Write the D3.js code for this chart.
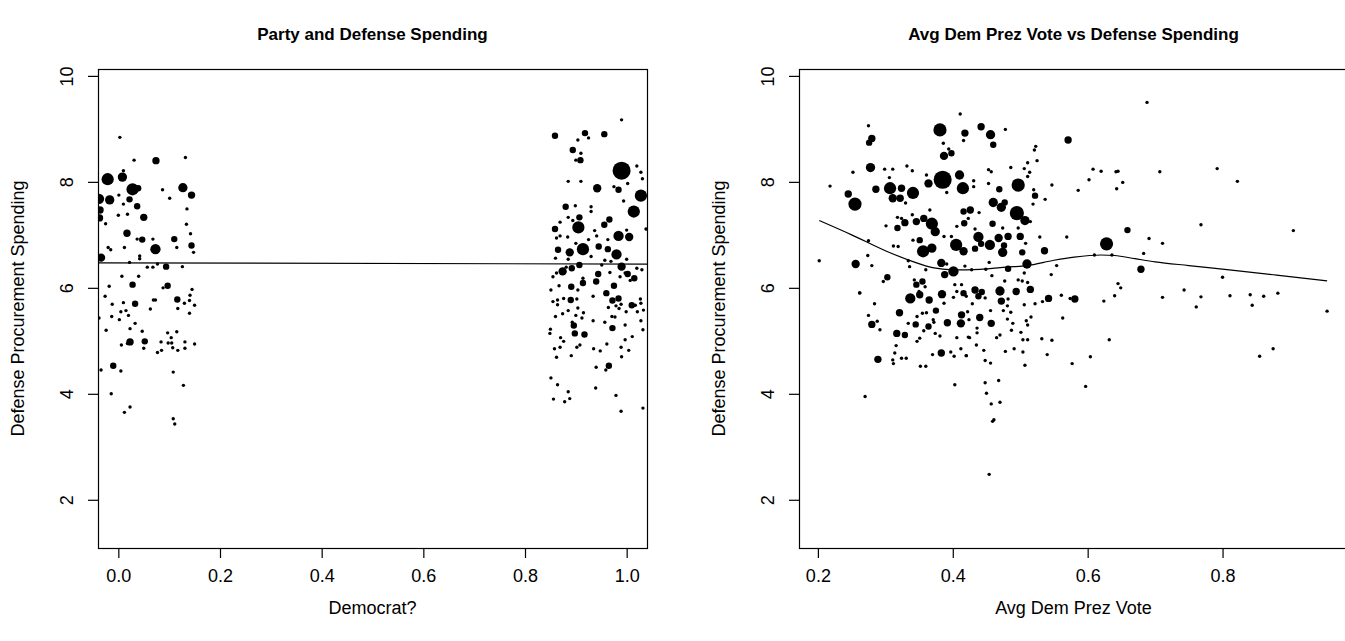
<!DOCTYPE html>
<html>
<head>
<meta charset="utf-8">
<script src="https://cdn.jsdelivr.net/npm/d3@7/dist/d3.min.js"></script>
<style>
body { margin: 0; background: #fff; }
svg text { font-family: "Liberation Sans", Arial, Helvetica, sans-serif; fill: #000; }
</style>
</head>
<body>
<svg id="chart"></svg>
<script>
// ---- data: [x, y, size] ----
let repPoints = [
    [-0.021,8.05,6],[0.008,8.09,4.5],[0.028,7.86,6],[0.039,7.88,3],[0.074,8.40,3.5],[0.127,7.89,4.5],
    [0.144,7.75,3.5],[-0.038,7.68,5],[-0.017,7.66,4.5],[0.022,7.67,3],[0.037,7.54,3],[-0.036,7.47,3.5],
    [-0.037,7.32,3.5],[0.050,7.33,3.5],[0.017,7.03,3.5],[0.047,6.91,3],[0.110,6.92,3],[0.073,6.73,5],
    [0.144,6.80,3],[-0.034,6.57,4],[0.094,6.40,3],[0.028,6.06,3],[0.097,6.04,3],[0.033,5.70,3],
    [0.116,5.78,3],[0.023,4.98,3.5],[0.052,4.99,3],[-0.010,4.53,3],
    [0.003,8.84,1],[0.031,8.41,1],[0.132,8.46,1],[0.010,8.21,1],[0.087,7.85,1],[0.101,7.69,1],
    [0.001,7.75,1],[0.010,7.58,1],[0.018,7.39,1],[0.000,7.37,1],[0.135,7.49,1],[0.134,7.20,1],
    [-0.025,7.21,1],[0.142,7.02,1],[-0.020,6.76,1],[-0.015,6.72,1],[0.012,6.76,1],[0.037,6.92,1],
    [0.068,6.92,1],[0.115,6.76,1],[0.148,6.67,1],[0.042,6.60,1],[0.042,6.55,1],[0.022,6.48,1],
    [0.057,6.39,1],[0.068,6.39,1],[0.077,6.45,1],[0.126,6.40,1],[0.007,6.22,1],[0.040,6.22,1],
    [-0.018,6.03,1],[0.088,6.00,1],[0.145,5.97,1],[-0.026,5.84,1],[-0.012,5.69,1],[0.010,5.72,1],
    [0.069,5.77,1],[0.073,5.77,1],[0.063,5.60,1],[0.141,5.86,1],[0.140,5.76,1],[0.130,5.71,1],
    [0.150,5.67,1],[0.117,5.61,1],[0.140,5.52,1],[0.005,5.55,1],[0.015,5.57,1],[0.020,5.48,1],
    [-0.013,5.46,1],[0.002,5.40,1],[-0.024,5.20,1],[0.023,5.23,1],[0.033,5.33,1],[0.047,5.18,1],
    [0.097,5.15,1],[0.115,5.17,1],[0.104,5.06,1],[0.006,4.92,1],[0.018,4.95,1],[0.050,4.86,1],
    [0.077,4.78,1],[0.085,4.82,1],[0.084,4.98,1],[0.098,4.96,1],[0.105,4.96,1],[0.107,4.87,1],
    [0.117,4.82,1],[0.131,4.98,1],[0.131,4.86,1],[0.150,4.94,1],[0.005,4.43,1],[-0.034,4.45,1],
    [0.108,4.41,1],[0.128,4.16,1],[-0.014,4.00,1],[0.023,3.75,1],[0.012,3.65,1],[0.108,3.53,1],
    [0.111,3.43,1],[-0.038,5.43,1]
];

let demPoints = [
    [0.990,8.21,9],[1.028,7.74,6],[1.014,7.44,6],[0.905,7.14,6],[0.914,6.73,6],[0.984,6.98,5],
    [0.980,6.63,5],[1.005,6.96,4],[0.942,7.88,4],[0.859,8.87,3],[0.918,8.92,3],[0.956,8.90,3],
    [0.894,8.60,3],[0.909,8.41,3],[0.984,7.85,3],[0.880,7.53,3],[0.907,7.33,3],[0.966,7.29,3],
    [0.956,7.19,3],[0.859,7.11,3],[0.865,6.72,3],[0.888,6.67,4],[0.945,6.78,3],[0.963,6.73,3],
    [0.990,6.40,4],[0.874,6.31,4],[0.892,6.37,3],[0.907,6.43,3],[0.944,6.26,3],[1.002,6.26,3],
    [1.015,6.18,3],[0.891,6.02,3],[0.914,6.09,3],[0.940,6.12,3],[0.975,6.04,3],[0.960,5.90,3],
    [0.890,5.77,3],[0.984,5.80,3],[0.972,5.76,3],[1.010,5.67,3],[0.896,5.29,3],[0.898,5.14,3],
    [0.917,5.12,3],[0.972,5.24,3],[0.965,4.53,3],
    [0.990,9.17,1],[0.904,8.79,1],[0.925,8.83,1],[0.910,8.54,1],[0.900,8.41,1],[1.020,8.30,1],
    [1.028,8.18,1],[1.031,8.06,1],[0.885,8.01,1],[0.910,8.01,1],[0.975,7.91,1],[0.994,7.64,1],
    [1.002,7.97,1],[0.930,7.53,1],[0.930,7.44,1],[0.899,7.55,1],[0.869,7.24,1],[0.885,7.33,1],
    [0.894,7.27,1],[0.937,7.08,1],[0.869,6.98,1],[0.862,6.94,1],[0.884,6.96,1],[0.900,6.84,1],
    [0.925,6.91,1],[1.038,7.11,1],[1.000,7.09,1],[0.963,6.91,1],[0.941,6.98,1],[0.860,6.56,1],
    [0.885,6.54,1],[0.957,6.52,1],[0.930,6.59,1],[0.951,6.43,1],[0.969,6.50,1],[1.000,6.54,1],
    [1.030,6.34,1],[0.855,6.21,1],[0.862,6.28,1],[0.881,6.39,1],[0.997,6.28,1],[1.020,6.37,1],
    [0.851,5.96,1],[0.867,6.04,1],[0.904,5.96,1],[0.967,6.29,1],[0.987,6.21,1],[1.007,6.14,1],
    [0.914,6.18,1],[0.855,5.74,1],[0.864,5.77,1],[0.864,5.68,1],[0.876,5.80,1],[0.902,5.79,1],
    [0.885,5.57,1],[0.904,5.62,1],[0.915,5.53,1],[0.934,5.84,1],[0.964,5.63,1],[0.979,5.66,1],
    [0.985,5.61,1],[0.989,5.69,1],[1.017,5.67,1],[1.027,5.79,1],[1.028,5.71,1],[1.033,5.58,1],
    [0.999,5.55,1],[1.021,5.55,1],[0.860,5.46,1],[0.874,5.51,1],[0.900,5.48,1],[0.893,5.35,1],
    [0.912,5.43,1],[0.934,5.38,1],[0.957,5.35,1],[0.971,5.46,1],[0.977,5.45,1],[0.997,5.30,1],
    [1.028,5.38,1],[1.032,5.21,1],[0.850,5.22,1],[0.849,5.14,1],[0.876,4.99,1],[0.870,5.06,1],
    [0.902,4.88,1],[0.908,4.92,1],[0.935,4.85,1],[0.948,4.81,1],[0.961,4.94,1],[0.989,4.88,1],
    [1.004,4.82,1],[0.997,5.02,1],[1.011,5.08,1],[0.858,4.85,1],[0.869,4.88,1],[0.862,4.69,1],
    [0.891,4.72,1],[0.990,4.70,1],[0.940,4.50,1],[0.959,4.45,1],[0.851,4.30,1],[0.864,4.17,1],
    [0.885,4.04,1],[0.856,3.90,1],[0.878,3.85,1],[0.888,3.91,1],[0.939,4.11,1],[0.979,3.97,1],
    [0.989,3.67,1],[1.032,3.73,1]
];

let votePoints = [
    [0.381,8.98,6.5],[0.418,8.92,3.5],[0.280,8.82,3.5],[0.276,8.74,3],[0.387,8.49,4],[0.398,8.54,3],
    [0.278,8.27,4.5],[0.385,8.04,9],[0.364,7.97,4],[0.410,8.13,4.5],[0.415,7.88,6],[0.307,7.88,6],
    [0.324,7.88,3.5],[0.341,7.79,6],[0.311,7.69,4],[0.322,7.69,3.5],[0.286,7.86,3.5],[0.245,7.77,3.5],
    [0.255,7.58,6.5],[0.416,7.44,3],[0.369,7.21,6],[0.374,7.06,4.5],[0.357,7.31,3.5],[0.346,7.25,3.5],
    [0.329,7.23,3.5],[0.318,7.13,3],[0.417,7.22,3],[0.405,6.81,6],[0.416,6.69,4],[0.356,6.69,6],
    [0.369,6.75,4.5],[0.351,6.90,3],[0.256,6.45,4],[0.383,6.47,4],[0.401,6.31,5],[0.388,6.25,3.5],
    [0.303,6.20,3],[0.346,6.06,3],[0.355,6.12,3],[0.416,5.90,3],
    [0.321,5.53,3.5],[0.280,5.31,3.5],[0.317,5.14,3.5],[0.329,5.11,3],[0.345,5.31,3],[0.364,5.27,3],
    [0.392,5.34,3.5],[0.412,5.33,4],[0.413,5.49,3.5],[0.383,4.77,3.5],[0.289,4.65,3.5],[0.375,5.57,3],
    [0.384,5.88,4],[0.337,5.80,5],[0.351,5.87,3.5],[0.365,5.77,3.5],
    [0.442,9.04,3.5],[0.456,8.89,4.5],[0.460,8.70,3],[0.571,8.79,3.5],[0.497,7.94,6.5],[0.469,7.86,3],
    [0.522,7.74,3],[0.460,7.61,4.5],[0.472,7.52,4.5],[0.477,7.61,3],[0.426,7.47,3.5],[0.495,7.41,7],
    [0.507,7.27,4.5],[0.459,7.21,3],[0.438,6.96,5],[0.442,6.83,3],[0.455,6.81,5],[0.468,6.94,4],
    [0.433,6.74,3],[0.474,6.67,4.5],[0.476,6.80,3],[0.482,6.97,3.5],[0.500,6.97,3.5],[0.503,6.67,3],
    [0.536,6.70,3.5],[0.628,6.83,6.5],[0.659,7.09,3],[0.510,6.45,4.5],[0.482,6.36,3],[0.433,5.96,3.5],
    [0.443,5.92,3],[0.438,5.84,3],[0.470,5.94,4.5],[0.472,5.75,3.5],[0.494,5.93,3.5],[0.515,5.97,3.5],
    [0.542,5.80,3.5],[0.581,5.79,3.5],[0.440,5.44,3.5],[0.457,5.33,3.5],[0.679,6.35,3.5],
    [0.411,9.28,1],[0.275,9.06,1],[0.386,8.73,1],[0.394,8.62,1],[0.416,8.78,1],[0.252,8.18,1],
    [0.299,8.24,1],[0.311,8.24,1],[0.332,8.30,1],[0.340,8.21,1],[0.361,8.13,1],[0.306,8.08,1],
    [0.218,7.92,1],[0.391,7.80,1],[0.330,7.60,1],[0.318,7.33,1],[0.324,7.31,1],[0.301,7.17,1],
    [0.340,7.38,1],[0.366,7.47,1],[0.406,7.16,1],[0.387,6.97,1],[0.275,6.89,1],[0.312,6.79,1],
    [0.319,6.78,1],[0.341,6.90,1],[0.398,6.97,1],[0.202,6.51,1],[0.274,6.61,1],[0.280,6.42,1],
    [0.336,6.40,1],[0.334,6.51,1],[0.360,6.34,1],[0.391,6.45,1],[0.418,6.41,1],[0.262,5.91,1],
    [0.297,6.12,1],[0.343,6.15,1],[0.350,5.93,1],[0.359,6.02,1],[0.403,6.06,1],[0.406,5.93,1],
    [0.413,6.06,1],[0.420,5.84,1],
    [0.284,5.70,1],[0.275,5.48,1],[0.288,5.37,1],[0.292,5.21,1],[0.262,5.90,1],[0.334,5.33,1],
    [0.347,5.46,1],[0.355,5.52,1],[0.361,5.53,1],[0.371,5.40,1],[0.372,5.35,1],[0.357,5.19,1],
    [0.347,4.99,1],[0.351,5.05,1],[0.374,5.14,1],[0.381,5.09,1],[0.387,5.71,1],[0.401,5.82,1],
    [0.406,5.06,1],[0.423,5.07,1],[0.316,4.91,1],[0.314,4.77,1],[0.311,4.64,1],[0.312,4.57,1],
    [0.324,4.67,1],[0.331,4.67,1],[0.352,4.52,1],[0.360,4.52,1],[0.370,4.74,1],[0.397,4.79,1],
    [0.402,4.71,1],[0.412,4.85,1],[0.420,4.72,1],[0.403,4.17,1],[0.270,3.95,1],
    [0.478,8.99,1],[0.523,8.67,1],[0.521,8.60,1],[0.525,8.40,1],[0.511,8.36,1],[0.506,8.25,1],
    [0.514,8.18,1],[0.511,8.10,1],[0.486,8.27,1],[0.453,8.23,1],[0.457,8.19,1],[0.431,8.02,1],
    [0.431,7.91,1],[0.453,7.97,1],[0.520,7.85,1],[0.537,7.67,1],[0.519,7.58,1],[0.547,7.94,1],
    [0.608,8.24,1],[0.620,8.20,1],[0.642,8.19,1],[0.645,8.20,1],[0.602,8.04,1],[0.652,7.99,1],
    [0.643,7.87,1],[0.586,7.84,1],[0.439,7.42,1],[0.423,7.31,1],[0.433,7.11,1],[0.474,7.13,1],
    [0.497,7.13,1],[0.515,7.25,1],[0.529,6.96,1],[0.569,6.96,1],[0.508,6.84,1],[0.454,6.48,1],
    [0.428,6.34,1],[0.449,6.35,1],[0.458,6.23,1],[0.506,6.28,1],[0.546,6.25,1],[0.554,6.42,1],
    [0.610,6.62,1],[0.636,6.62,1],[0.477,6.13,1],[0.497,6.15,1],[0.503,6.13,1],[0.511,6.10,1],
    [0.482,5.79,1],[0.481,5.66,1],[0.475,5.57,1],[0.486,5.54,1],[0.506,5.68,1],[0.522,5.70,1],
    [0.533,5.74,1],[0.561,5.86,1],[0.574,5.80,1],[0.456,5.57,1],[0.448,5.81,1],[0.429,5.70,1],
    [0.422,5.55,1],[0.424,5.40,1],[0.516,5.45,1],[0.509,5.38,1],[0.511,5.30,1],[0.481,5.41,1],
    [0.489,5.33,1],[0.487,5.20,1],[0.501,5.16,1],[0.563,5.43,1],[0.436,5.24,1],[0.436,5.15,1],
    [0.425,5.06,1],[0.465,5.06,1],[0.470,5.11,1],[0.504,5.02,1],[0.511,5.02,1],[0.532,5.04,1],
    [0.547,5.01,1],[0.632,5.02,1],[0.435,4.92,1],[0.446,4.82,1],[0.478,4.80,1],[0.491,4.85,1],
    [0.504,4.79,1],[0.540,4.74,1],[0.420,4.72,1],[0.448,4.63,1],[0.456,4.58,1],[0.507,4.54,1],
    [0.577,4.57,1],[0.604,4.70,1],[0.448,4.21,1],[0.468,4.25,1],[0.450,4.01,1],[0.457,3.81,1],
    [0.470,3.84,1],[0.459,3.48,1],[0.461,3.51,1],[0.597,4.14,1],[0.645,6.08,1],[0.649,6.00,1],
    [0.640,5.85,1],[0.624,5.75,1],[0.454,2.48,1],
    [0.688,9.50,1],[0.707,8.19,1],[0.792,8.25,1],[0.822,8.01,1],[0.768,7.19,1],[0.691,6.93,1],
    [0.711,6.84,1],[0.683,6.65,1],[0.905,7.08,1],[0.800,6.20,1],[0.743,5.96,1],[0.711,5.82,1],
    [0.768,5.83,1],[0.761,5.64,1],[0.811,5.85,1],[0.841,5.87,1],[0.844,5.67,1],[0.861,5.84,1],
    [0.882,5.90,1],[0.955,5.56,1],[0.855,4.71,1],[0.875,4.85,1]
];

// straight fit on the left panel: [intercept, slope]
let partyFit = [6.47, -0.02];

// smooth curve on the right panel: [x, y]
let voteSmooth = [
    [0.202,7.27],[0.25,7.00],[0.30,6.70],[0.34,6.50],[0.37,6.38],[0.40,6.34],[0.44,6.35],
    [0.48,6.39],[0.51,6.42],[0.55,6.52],[0.58,6.58],[0.62,6.62],[0.64,6.61],[0.67,6.55],
    [0.70,6.49],[0.75,6.42],[0.81,6.34],[0.88,6.24],[0.955,6.13]
];

let partyTicks = [0, 0.2, 0.4, 0.6, 0.8, 1.0];
let voteTicks = [0.2, 0.4, 0.6, 0.8];
let spendTicks = [2, 4, 6, 8, 10];

// ---- layout ----
let svgW = 1345, svgH = 641;
let plotTop = 69, plotBottom = 548;
let fontSize = 18, titleSize = 17;

let svg = d3.select("#chart")
    .attr("width", svgW)
    .attr("height", svgH)

let yScale = d3.scaleLinear()
    .domain([1.09, 10.13])
    .range([plotBottom, plotTop])

let rScale = d3.scaleLinear()
    .domain([1, 3, 10])
    .range([1.7, 3.2, 10])

function drawPanel(p) {
    let xScale = d3.scaleLinear()
        .domain(p.domain)
        .range([p.x0, p.x1])

    let g = svg.append("g").attr("class", "panel " + p.id)

    g.append("clipPath")
        .attr("id", "clip-" + p.id)
        .append("rect")
        .attr("x", p.x0)
        .attr("y", plotTop)
        .attr("width", p.x1 - p.x0)
        .attr("height", plotBottom - plotTop)

    let inner = g.append("g").attr("clip-path", "url(#clip-" + p.id + ")")

    inner.selectAll("circle")
        .data(p.points)
        .enter()
        .append("circle")
        .attr("cx", function (d) { return xScale(d[0]); })
        .attr("cy", function (d) { return yScale(d[1]); })
        .attr("r", function (d) { return rScale(d[2]); })
        .style("fill", "#000")

    if (p.fit) {
        let xs = xScale.domain();
        inner.append("line")
            .attr("x1", xScale(xs[0]))
            .attr("y1", yScale(p.fit[0] + p.fit[1] * xs[0]))
            .attr("x2", xScale(xs[1]))
            .attr("y2", yScale(p.fit[0] + p.fit[1] * xs[1]))
            .style("stroke", "#000")
            .style("stroke-width", 1.2)
    }
    if (p.curve) {
        let line = d3.line()
            .x(function (d) { return xScale(d[0]); })
            .y(function (d) { return yScale(d[1]); })
            .curve(d3.curveMonotoneX)
        inner.append("path")
            .attr("d", line(p.curve))
            .style("fill", "none")
            .style("stroke", "#000")
            .style("stroke-width", 1.2)
    }

    // box
    g.append("rect")
        .attr("x", p.x0 + 0.5)
        .attr("y", plotTop + 0.5)
        .attr("width", p.x1 - p.x0)
        .attr("height", plotBottom - plotTop)
        .style("fill", "none")
        .style("stroke", "#000")
        .style("stroke-width", 1.2)

    // x axis
    let xAxis = d3.axisBottom(xScale)
        .tickValues(p.ticks)
        .tickSize(10)
        .tickSizeOuter(0)
        .tickFormat(d3.format(".1f"))

    let xa = g.append("g")
        .attr("class", "x axis")
        .attr("transform", "translate(0," + plotBottom + ")")
        .call(xAxis)
    xa.select(".domain").remove()
    xa.attr("font-size", fontSize).attr("font-family", null)
    xa.selectAll("line").style("stroke", "#000").style("stroke-width", 1.2)
    xa.selectAll("text").attr("y", 34).attr("dy", null)

    // y axis
    let yAxis = d3.axisLeft(yScale)
        .tickValues(spendTicks)
        .tickSize(10)
        .tickSizeOuter(0)
        .tickFormat(d3.format("d"))

    let ya = g.append("g")
        .attr("class", "y axis")
        .attr("transform", "translate(" + p.x0 + ",0)")
        .call(yAxis)
    ya.select(".domain").remove()
    ya.attr("font-size", fontSize).attr("font-family", null)
    ya.selectAll("line").style("stroke", "#000").style("stroke-width", 1.2)
    ya.selectAll("text")
        .attr("x", 0)
        .attr("dy", null)
        .attr("text-anchor", "middle")
        .attr("transform", "translate(-25,0) rotate(-90)")

    // titles and labels
    g.append("text")
        .attr("x", (p.x0 + p.x1) / 2)
        .attr("y", 40)
        .attr("text-anchor", "middle")
        .style("font-size", titleSize + "px")
        .style("font-weight", "bold")
        .text(p.title)

    g.append("text")
        .attr("x", (p.x0 + p.x1) / 2)
        .attr("y", 614)
        .attr("text-anchor", "middle")
        .style("font-size", fontSize + "px")
        .text(p.xlab)

    g.append("text")
        .attr("transform", "translate(" + (p.x0 - 74) + "," + ((plotTop + plotBottom) / 2) + ") rotate(-90)")
        .attr("text-anchor", "middle")
        .style("font-size", fontSize + "px")
        .text("Defense Procurement Spending")
}

drawPanel({
    id: "party",
    x0: 98, x1: 647,
    domain: [-0.04, 1.04],
    ticks: partyTicks,
    points: repPoints.concat(demPoints),
    fit: partyFit,
    title: "Party and Defense Spending",
    xlab: "Democrat?"
})

drawPanel({
    id: "vote",
    x0: 799, x1: 1348,
    domain: [0.172, 0.986],
    ticks: voteTicks,
    points: votePoints,
    curve: voteSmooth,
    title: "Avg Dem Prez Vote vs Defense Spending",
    xlab: "Avg Dem Prez Vote"
})
</script>
</body>
</html>
